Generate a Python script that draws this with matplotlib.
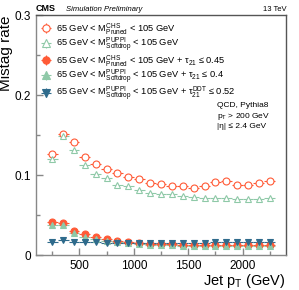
import matplotlib
matplotlib.use("Agg")
import matplotlib.pyplot as plt
import numpy as np

plt.rcParams['font.family'] = ['Liberation Sans', 'DejaVu Sans']
plt.rcParams['mathtext.fontset'] = 'custom'
plt.rcParams['mathtext.rm'] = 'Liberation Sans'
plt.rcParams['mathtext.it'] = 'Liberation Sans'

# jet pT bin centres (GeV), 100 GeV wide bins
pt = [250, 350, 450, 550, 650, 750, 850, 950, 1050, 1150, 1250,
      1350, 1450, 1550, 1650, 1750, 1850, 1950, 2050, 2150, 2250]

pruned_chs = [0.126, 0.151, 0.142, 0.123, 0.114, 0.108, 0.103, 0.098, 0.095, 0.090, 0.089,
              0.086, 0.086, 0.084, 0.087, 0.092, 0.093, 0.088, 0.088, 0.090, 0.093]
softdrop_puppi = [0.120, 0.149, 0.131, 0.113, 0.101, 0.097, 0.088, 0.086, 0.081, 0.078, 0.077,
                  0.076, 0.074, 0.073, 0.072, 0.072, 0.071, 0.070, 0.070, 0.070, 0.071]
pruned_tau = [0.042, 0.040, 0.030, 0.026, 0.023, 0.020, 0.018, 0.016, 0.015, 0.014, 0.014,
              0.014, 0.013, 0.013, 0.013, 0.013, 0.013, 0.013, 0.013, 0.013, 0.013]
softdrop_tau = [0.038, 0.038, 0.028, 0.023, 0.020, 0.018, 0.016, 0.015, 0.014, 0.013, 0.013,
                0.013, 0.012, 0.012, 0.012, 0.012, 0.012, 0.012, 0.012, 0.012, 0.012]
softdrop_ddt = [0.016, 0.019, 0.017, 0.016, 0.016, 0.015, 0.015, 0.015, 0.015, 0.015, 0.015,
                0.015, 0.015, 0.015, 0.015, 0.016, 0.016, 0.017, 0.017, 0.017, 0.016]

labels = [
    r'65 GeV < M$^{\rm CHS}_{\rm Pruned}$ < 105 GeV',
    r'65 GeV < M$^{\rm PUPPI}_{\rm Softdrop}$ < 105 GeV',
    r'65 GeV < M$^{\rm CHS}_{\rm Pruned}$ < 105 GeV + $\tau_{21}$ ≤ 0.45',
    r'65 GeV < M$^{\rm PUPPI}_{\rm Softdrop}$ < 105 GeV + $\tau_{21}$ ≤ 0.4',
    r'65 GeV < M$^{\rm PUPPI}_{\rm Softdrop}$ < 105 GeV + $\tau_{21}^{\rm DDT}$ ≤ 0.52',
]

red = '#ff5a36'
green = '#8fc9a8'
blue = '#2f6b8c'

fig = plt.figure(figsize=(2.99, 2.90), dpi=100)
ax = fig.add_axes([0.12, 0.12, 0.837, 0.828])

xerr = 50
styles = [
    dict(marker='o', mfc='white', mec=red, color=red, ms=5),
    dict(marker='^', mfc='white', mec=green, color=green, ms=5),
    dict(marker='o', mfc=red, mec=red, color=red, ms=5),
    dict(marker='^', mfc=green, mec=green, color=green, ms=5),
    dict(marker='v', mfc=blue, mec=blue, color=blue, ms=5),
]
series = [pruned_chs, softdrop_puppi, pruned_tau, softdrop_tau, softdrop_ddt]
for vals, st, lab in zip(series, styles, labels):
    ax.errorbar(pt, vals, xerr=xerr, yerr=0.002, ls='none', lw=0.8, mew=0.8,
                capsize=0, label=lab, **st)

ax.set_xlim(100, 2400)
ax.set_ylim(0, 0.3)
ax.set_xticks([500, 1000, 1500, 2000])
ax.set_xticks(np.arange(250, 2400, 250), minor=True)
ax.set_yticks([0, 0.1, 0.2, 0.3])
ax.set_yticklabels(['0', '0.1', '0.2', '0.3'])
ax.set_yticks([0.05, 0.15, 0.25], minor=True)
ax.tick_params(direction='in', labelsize=8.5, length=5, width=1, color='#888888')
ax.tick_params(which='minor', direction='in', length=3, width=1, color='#888888')
for s in ax.spines.values():
    s.set_color('#555555')
    s.set_linewidth(1)
ax.spines['left'].set_color('#888888')
ax.spines['bottom'].set_color('#888888')

ax.set_ylabel('Mistag rate', fontsize=11, loc='top', labelpad=1)
ax.set_xlabel(r'Jet p$_{\rm T}$ (GeV)', fontsize=10.5, loc='right', labelpad=0)

ax.legend(loc='upper left', frameon=False, fontsize=6.7, handlelength=1.0,
          handletextpad=0.6, labelspacing=-0.12, borderaxespad=0.2,
          borderpad=0.4, markerscale=1.05)

ax.text(0.0, 1.01, 'CMS', transform=ax.transAxes, fontsize=6.5, fontweight='bold',
        va='bottom', ha='left')
ax.text(0.12, 1.01, 'Simulation Preliminary', transform=ax.transAxes, fontsize=5.5,
        style='italic', va='bottom', ha='left')
ax.text(1.0, 1.01, '13 TeV', transform=ax.transAxes, fontsize=5.5, va='bottom', ha='right')

ax.text(0.725, 0.64, 'QCD, Pythia8\np$_{\\rm T}$ > 200 GeV\n|η| ≤ 2.4 GeV',
        transform=ax.transAxes, fontsize=6, va='top', ha='left', linespacing=1.3)

fig.savefig('out.png', dpi=100)
